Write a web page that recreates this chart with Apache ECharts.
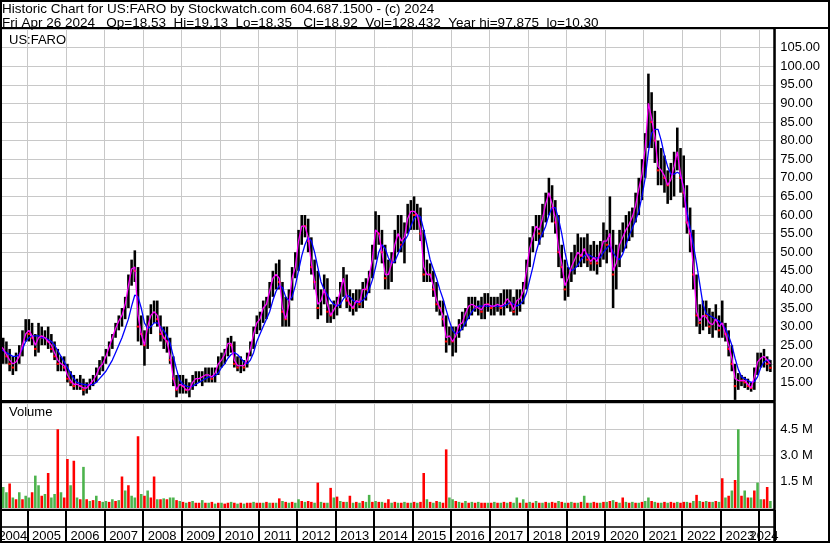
<!DOCTYPE html>
<html><head><meta charset="utf-8">
<script src="https://cdn.jsdelivr.net/npm/echarts/dist/echarts.min.js"></script>
<style>html,body{margin:0;padding:0;background:#fff}#c{width:830px;height:543px}</style>
</head><body><div id="c"></div><script>
// ---- data (monthly, Apr 2004 .. Apr 2024) ----
const startYear = 2004, startMonth = 4, monthCount = 242; // last category is an empty pad month
const years = ['2004','2005','2006','2007','2008','2009','2010','2011','2012','2013','2014','2015','2016','2017','2018','2019','2020','2021','2022','2023','2024'];
const yearLabelMonth = ['08','07','07','07','07','07','07','07','07','07','07','07','07','07','07','07','07','07','07','07','02'];
const priceTicks = [15,20,25,30,35,40,45,50,55,60,65,70,75,80,85,90,95,100,105];
const volTicks = [1.5,3.0,4.5];

const high = [
 28,27,26,24,22,23,25,29,32,
 32,31,28,31,30,29,30,28,26,24,22,22,
 20,18,17,16,17,16,15,16,17,19,21,22,
 24,26,28,31,33,35,38,44,48,50.5,46,33,
 29,33,36,37,37,33,30,30,27,22,17,17,
 17,16,15,17,18,18,18,19,19,19,19,22,
 23,24,27,27.5,26,22,22,21,23,26,30,33,
 34,37,38,42,45,47,48,42,38,40,46,50,
 56,60,60,59,54,48,45,40,44,43,36,37,
 38,42,46,44,40,39,40,40,42,43,45,52,
 61,60,56,52,48,50,56,60,60,58,63,64,
 65,63,62,56,48,47,45,42,37,37,33,30,
 30,30,32,34,35,38,38,38,37,38,39,39,
 38,38,38,39,40,40,40,38,40,40,42,48,
 54,57,60,60,63,66,70,68,64,60,52,48,
 46,50,52,55,54,54,55,52,53,52,53,58,
 56,65,56,52,56,58,60,61,62,66,70,75,
 82,98,93,88,80,78,76,72,74,77,83.5,78,
 76,68,62,56,44,36,37,37,35,34,36,33,
 37,31,29,25,20,17.5,17,16.5,16,15,19,23,
 23,24,22,21
];
const low = [
 18,20,20,18,17,18,20,22,26,
 26,25,22,23,25,25,24,23,21,18,18,18,
 15,14,13,13,13,11.5,12,13,14,15,17,18,
 20,22,24,27,29,30,32,35,41,42,26,25,
 19.5,24,28,31,30,26,24,23,20,14,11,12,
 12,12,11,13,14,15,14,15,15,15,15,17,
 19,20,22,23,19,18,17.5,18,19,22,24,28,
 29,31,32,35,38,40,40,30,30,30,37,43,
 45,52,54,50,44,40,32,33,36,31,31,32,
 33,35,38,35,34,33,34,35,35,37,39,43,
 48,52,47,40,40,42,47,50,50,47,55,56,
 56,56,53,42,42,42,38,34,33,30,23,25,
 22,23,27,29,30,32,33,34,33,32,32,34,
 33,33,34,33,33,35,34,33,33,34,36,40,
 46,50,53,52,54,58,60,58,55,46,43,37,
 38,42,44,46,46,47,46,45,45,44,46,48,
 47,50,35,40,46,50,51,53,54,58,60,64,
 70,78,78,74,68,68,66,63,64,65,72,66,
 62,55,50,40,30,28,29,30,28,27,29,27,
 27,26,22,18,10.3,13,14,13.5,13,12.5,13,17,
 19,19,18,17.8
];
const close = [
 22,24,22,20,19,21,23,27,30,
 28,27,24,28,27,27,26,24,22,20,20,19,
 16,15,14,15,14,13,14,15,16,18,20,20,
 23,25,27,30,32,33,37,42,46,45,30,28,
 25,31,34,34,32,28,27,26,21,16,13,16,
 14,13,13,16,16,16,17,17,17,16,18,21,
 21,23,26,25,20,19,20,19,22,25,29,32,
 32,35,36,40,43,44,42,34,32,38,44,46,
 54,58,57,53,46,42,35,38,41,34,33,35,
 36,40,43,37,36,35,38,36,41,40,44,50,
 57,55,50,43,45,48,53,56,52,56,60,62,
 60,60,55,44,45,44,40,36,35,32,26,29,
 26,28,31,31,34,36,36,35,35,34,37,36,
 35,36,36,35,36,38,36,34,38,38,40,47,
 52,55,58,55,60,64,66,62,58,50,46,40,
 43,47,48,50,49,52,48,47,49,47,51,53,
 52,55,44,48,53,54,56,58,60,63,68,72,
 80,88,85,80,72,72,70,68,70,74,76,70,
 66,58,55,44,33,31,34,33,30,31,33,29,
 30,28,24,20,14,16,15.5,15,14,13.5,18,21,
 21,22,20,18.92
];
const maShort = [
 25,24,22.5,21,20,20.5,22,25,28,
 29,27.5,25,27,27.5,27,26,25,23,21,20,19.5,
 17,15.5,14.5,14.5,14,13.5,13.5,14.5,15.5,17,19,20,
 22,24.5,27,29.5,31.5,33,36,41,45.5,46,33,28,
 25,30,33,34,33,29,27,26,22,16,13,14.5,
 14,13,13,15,16,16,16.5,17,17,16.5,17.5,20,
 21,22.5,25.5,25.5,21,19.5,19.5,19.5,21,24,28,31,
 32,35,36,39.5,43,44,43,35,32,36,43,46,
 53,57,57,54,47,42,36,37,40,36,33,34.5,
 36,39.5,43,38,36,35,37,36.5,40,40,43.5,48,
 56,55,50,44,44,47,52,55,53,54,59,61,
 61,60,56,46,44,44,41,37,35,33,27,27.5,
 26,27.5,30.5,31,33.5,35.5,36,35.5,35,34.5,36,36,
 35.5,35.5,36,35.5,36,37.5,36.5,34.5,37,37.5,39.5,45,
 51,54,57,56,59,63,66,63,59,51,47,41,
 43,46,48,50,49,51,49,47.5,48.5,47.5,50,53,
 53,55,45,47,52,54,56,57.5,59.5,62.5,67,71,
 78,90,86,81,73,72,70.5,68,69.5,73,77,71,
 67,58,55,46,34,31.5,33,32.5,31,30.5,32,30,
 31,28,25,21.5,16,15.5,15.5,15.5,14.5,13.5,16.5,20.5,
 21.5,22,21,20
];
const maLong = [
 24,23.5,23,22.5,22,22,22.5,24,26,
 27,27.5,27.5,27.5,27,27,26.5,26,25,23.5,22,20.5,
 19,17.5,16,15,14.7,14.5,14.3,14.3,14.5,15,16,17,
 18,19.5,21,23,25,27,29.5,32,35.5,38.5,38,35,
 31,29.5,30,31,31,30,29,27.5,25.5,22,18.5,15.5,
 14.5,14,13.8,14,14.5,15,15.5,16,16.5,16.5,16.8,17.5,
 19,20,21.5,22.5,23,22.5,21.5,20.5,20,21,23,26,
 28,30,32,34,37,39.5,41,40.5,38,37,38,41,
 45,49,52,54,53,50,46,42,40,38.5,37,36,
 35.5,36,37.5,38.5,38,37,36.5,36.5,37,38,40,42.5,
 46,50,52,51,48.5,47,47.5,49.5,51.5,53,54.5,57,
 59,60,59.5,56,52,48,45.5,43,40,37.5,34.5,31.5,
 29,28,28.5,29.5,31,32.5,34,35,35.5,35.5,35.5,35.5,
 35.5,35.5,35.5,35.5,35.5,36,36.5,36,35.5,36,37,39,
 42.5,46,50,53,55,57,60,62,62,59,55,50,
 46,45,45.5,46.5,48,49,49.5,49,48.5,48.5,48.5,50,
 51,52,50,48.5,48,49.5,52,54.5,56.5,58.5,61,65,
 70,77,82,83,83,80,76,73,71,71,71.5,71,
 67,61,56.5,52,47,41.5,36,33.5,33,32.5,32,31.5,
 30.5,29.5,27.5,25,21.5,18.5,16.5,16,15.5,15,15.2,16.5,
 19,20.5,21,21
];
// volume, millions
const volume = [
 2.1,1.2,0.9,1.4,0.6,0.5,0.9,0.5,0.7,
 0.6,0.9,1.85,1.3,0.7,0.8,2.0,0.6,0.8,4.5,0.9,0.6,
 2.8,1.3,2.7,0.6,0.5,2.35,0.5,0.4,0.45,0.7,0.4,0.35,
 0.4,0.35,0.5,0.4,0.45,1.8,1.0,1.3,0.7,0.6,4.1,0.8,
 0.7,1.0,0.6,1.8,0.5,0.5,0.55,0.5,0.6,0.6,0.45,0.4,
 0.35,0.3,0.35,0.4,0.3,0.3,0.45,0.3,0.3,0.35,0.25,0.3,
 0.3,0.25,0.3,0.35,0.3,0.25,0.3,0.25,0.3,0.3,0.35,0.3,
 0.3,0.3,0.35,0.3,0.3,0.3,0.55,0.4,0.35,0.3,0.35,0.3,
 0.5,0.4,0.35,0.4,0.35,0.3,1.45,0.35,0.3,0.3,1.15,0.6,
 0.65,0.4,0.35,0.35,0.7,0.3,0.35,0.3,0.4,0.35,0.75,0.35,
 0.4,0.35,0.35,0.3,0.5,0.3,0.35,0.3,0.3,0.35,0.3,0.3,
 0.35,0.3,0.35,2.0,0.5,0.35,0.3,0.4,0.35,0.3,3.35,0.6,
 0.5,0.4,0.35,0.3,0.4,0.3,0.35,0.3,0.35,0.3,0.3,0.3,
 0.3,0.35,0.3,0.3,0.35,0.3,0.35,0.3,0.6,0.3,0.5,0.3,
 0.35,0.3,0.4,0.3,0.3,0.35,0.3,0.35,0.3,0.4,0.35,0.3,
 0.3,0.35,0.3,0.3,0.35,0.7,0.3,0.3,0.35,0.3,0.3,0.35,
 0.35,0.4,0.45,0.35,0.3,0.6,0.35,0.3,0.35,0.3,0.3,0.35,
 0.4,0.6,0.4,0.35,0.3,0.3,0.35,0.3,0.35,0.3,0.35,0.3,
 0.35,0.35,0.3,0.4,0.75,0.4,0.35,0.4,0.35,0.35,0.4,0.35,
 1.7,0.6,0.7,1.0,1.6,4.5,0.7,1.0,0.6,0.6,1.0,1.45,
 0.5,0.5,1.2,0.4
];
// 1 = up (green), 0 = down (red)
const volumeUp = [
 1,1,1,0,1,0,1,0,1,
 1,0,1,1,0,1,0,1,1,0,1,0,
 0,1,0,1,0,1,0,1,0,1,0,1,
 1,0,1,0,1,0,1,0,1,1,0,1,
 0,1,0,0,1,0,1,0,1,1,0,1,
 0,1,0,1,0,0,1,0,1,0,1,0,
 1,0,0,1,0,1,0,1,0,0,1,0,
 0,1,0,1,0,1,0,1,0,1,0,1,
 1,0,1,0,0,1,0,1,0,1,0,1,
 0,1,0,1,0,1,0,1,0,1,1,0,
 1,0,1,0,0,1,0,1,0,1,0,1,
 0,1,0,0,1,0,1,0,1,0,0,1,
 1,0,1,0,1,0,1,0,1,0,0,1,
 0,1,0,1,0,1,0,1,1,0,1,0,
 1,0,1,0,1,0,1,0,0,1,0,1,
 0,1,0,1,0,1,0,1,0,0,1,0,
 1,0,1,0,1,0,1,0,1,0,1,0,
 1,1,0,1,0,1,0,1,0,0,1,0,
 0,1,0,1,0,1,0,1,0,1,0,1,
 0,1,0,1,0,1,0,1,0,1,0,1,
 1,0,0,1
];

// ---- build ----
const months = [];
for (let k = 0; k < monthCount; k++) {
  const t = startMonth - 1 + k;
  months.push((startYear + Math.floor(t / 12)) + '-' + String(t % 12 + 1).padStart(2, '0'));
}
const lastYear = years[years.length - 1];
const labelSet = {};
years.forEach((y, i) => { labelSet[y + '-' + yearLabelMonth[i]] = (i === 0 || i === years.length - 1) ? 'b' : 'a'; });

const barData = high.map((h, i) => [i, h, low[i], close[i], (i > 0 && close[i] < close[i - 1]) ? 1 : 0]);
const volData = volume.map((v, i) => ({ value: v, itemStyle: { color: volumeUp[i] ? '#4cb34c' : '#ff0000' } }));

const FONT = 'Liberation Sans, Arial, sans-serif';
const isJan = (idx, val) => val.slice(5) === '01';
const gridBase = { left: -1.6, right: 54.8, outerBoundsMode: 'none', containLabel: false, show: false };
const yearRich = { a: { fontSize: 13, fontFamily: FONT, color: '#000', padding: [0, 3.2, 0, 0] }, b: { fontSize: 13, fontFamily: FONT, color: '#000' } };
const yearFmt = (val) => '{' + labelSet[val] + '|' + val.slice(0, 4) + '}';

function renderBar(params, api) {
  const i = api.value(0);
  const top = api.coord([i, api.value(1)]);
  const bot = api.coord([i, api.value(2)]);
  const cl = api.coord([i, api.value(3)]);
  const w = api.size([1, 0])[0];
  const bw = Math.max(1, w * 0.8);
  const children = [{ type: 'rect', shape: { x: top[0] - bw / 2, y: top[1], width: bw, height: Math.max(1, bot[1] - top[1]) }, style: { fill: '#000' } }];
  if (api.value(4) === 1) {
    children.push({ type: 'rect', shape: { x: top[0] - bw / 2, y: cl[1] - 1, width: bw, height: 2 }, style: { fill: '#ff0000' } });
  }
  return { type: 'group', children };
}

const chart = echarts.init(document.getElementById('c'), null, { renderer: 'canvas' });
const line = (x1, y1, x2, y2, w) => ({ type: 'line', shape: { x1, y1, x2, y2 }, style: { stroke: '#000', lineWidth: w }, z: 100 });

chart.setOption({
  animation: false,
  backgroundColor: '#fff',
  textStyle: { fontFamily: FONT },
  grid: [
    Object.assign({}, gridBase, { top: 29, height: 372 }),
    Object.assign({}, gridBase, { top: 403, height: 105 }),
    Object.assign({}, gridBase, { top: 510, height: 32 })
  ],
  xAxis: [
    { type: 'category', gridIndex: 0, data: months, boundaryGap: true, axisLine: { show: false }, axisTick: { show: false }, axisLabel: { show: false },
      splitLine: { show: true, interval: isJan, lineStyle: { color: '#c8c8c8', width: 1 } } },
    { type: 'category', gridIndex: 1, data: months, boundaryGap: true, axisLine: { show: false }, axisTick: { show: false }, axisLabel: { show: false },
      splitLine: { show: true, interval: isJan, lineStyle: { color: '#c8c8c8', width: 1 } } },
    { type: 'category', gridIndex: 2, position: 'bottom', offset: 0, data: months, boundaryGap: true, axisLine: { show: false }, axisTick: { show: false },
      splitLine: { show: true, interval: isJan, lineStyle: { color: '#000', width: 2 } },
      axisLabel: { show: true, inside: true, margin: -1, hideOverlap: false,
        interval: (idx, val) => labelSet[val] !== undefined && val.slice(0, 4) !== lastYear,
        formatter: yearFmt, rich: yearRich } },
    { type: 'category', gridIndex: 2, position: 'bottom', offset: 0, data: months, boundaryGap: true, axisLine: { show: false }, axisTick: { show: false },
      splitLine: { show: false },
      axisLabel: { show: true, inside: true, margin: -1, hideOverlap: false,
        interval: (idx, val) => labelSet[val] !== undefined && val.slice(0, 4) === lastYear,
        formatter: yearFmt, rich: yearRich } }
  ],
  yAxis: [
    { type: 'value', gridIndex: 0, position: 'right', min: 10, max: 110, interval: 5,
      axisLine: { show: false }, axisTick: { show: false },
      splitLine: { show: true, lineStyle: { color: '#c8c8c8', width: 1 } },
      axisLabel: { show: true, margin: 5, align: 'left', fontSize: 13, fontFamily: FONT, color: '#000',
        formatter: (v) => priceTicks.indexOf(v) >= 0 ? v.toFixed(2) : '' } },
    { type: 'value', gridIndex: 1, position: 'right', min: 0, max: 6, interval: 1.5,
      axisLine: { show: false }, axisTick: { show: false },
      splitLine: { show: true, lineStyle: { color: '#c8c8c8', width: 1 } },
      axisLabel: { show: true, margin: 5, align: 'left', fontSize: 13, fontFamily: FONT, color: '#000',
        formatter: (v) => volTicks.indexOf(v) >= 0 ? v.toFixed(1) + ' M' : '' } },
    { type: 'value', gridIndex: 2, show: false, min: 0, max: 1 }
  ],
  series: [
    { type: 'custom', xAxisIndex: 0, yAxisIndex: 0, renderItem: renderBar, data: barData, encode: { x: 0, y: [1, 2] }, z: 2 },
    { type: 'line', xAxisIndex: 0, yAxisIndex: 0, data: maLong, showSymbol: false, symbol: 'none', lineStyle: { color: '#0000ff', width: 1.3 }, z: 3 },
    { type: 'line', xAxisIndex: 0, yAxisIndex: 0, data: maShort, showSymbol: false, symbol: 'none', lineStyle: { color: '#ff00ff', width: 1.3 }, z: 4 },
    { type: 'bar', xAxisIndex: 1, yAxisIndex: 1, data: volData, barWidth: '80%', z: 2 }
  ],
  graphic: [
    { type: 'rect', shape: { x: 1, y: 1, width: 828, height: 541 }, style: { fill: 'none', stroke: '#000', lineWidth: 2 }, z: 100 },
    line(0, 28, 830, 28, 2),
    line(774.5, 28, 774.5, 543, 2.5),
    line(0, 401.5, 774, 401.5, 3),
    line(0, 510, 774, 510, 2),
    line(0, 527, 774, 527, 1.5),
    { type: 'text', left: 2, top: 2, z: 101, style: { text: 'Historic Chart for US:FARO by Stockwatch.com 604.687.1500 - (c) 2024', font: '13.5px ' + FONT, fill: '#000' } },
    { type: 'text', left: 2, top: 16, z: 101, style: { text: 'Fri Apr 26 2024   Op=18.53  Hi=19.13  Lo=18.35   Cl=18.92  Vol=128,432  Year hi=97.875  lo=10.30', font: '13.5px ' + FONT, fill: '#000' } },
    { type: 'text', left: 9, top: 34, z: 101, style: { text: 'US:FARO', font: '13px ' + FONT, fill: '#000' } },
    { type: 'text', left: 9, top: 406, z: 101, style: { text: 'Volume', font: '13px ' + FONT, fill: '#000' } }
  ]
});
</script></body></html>
